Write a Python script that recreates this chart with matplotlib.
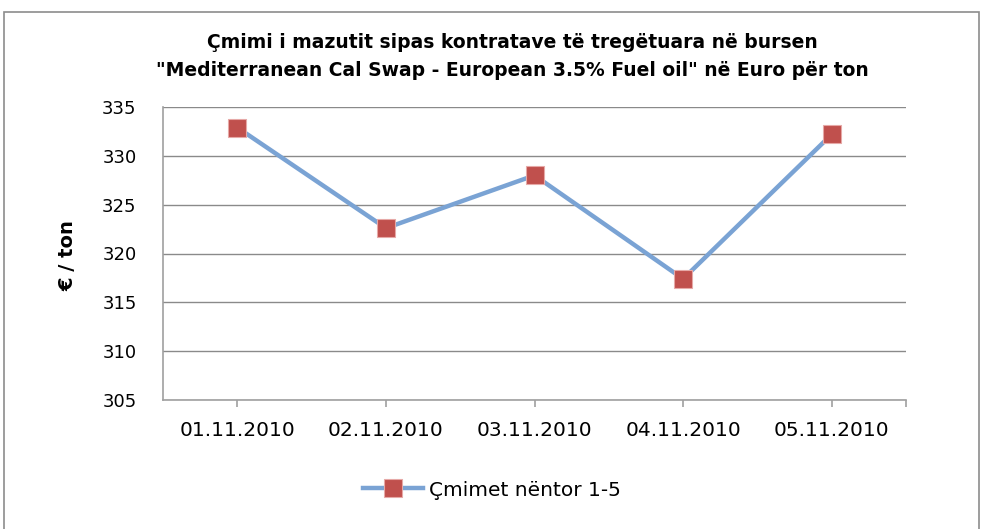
import matplotlib
matplotlib.use("Agg")
import matplotlib.pyplot as plt
from matplotlib.patches import Rectangle

dates = ["01.11.2010", "02.11.2010", "03.11.2010", "04.11.2010", "05.11.2010"]
prices = [332.9, 322.6, 328.0, 317.4, 332.2]
series_name = "Çmimet nëntor 1-5"
title = 'Çmimi i mazutit sipas kontratave të tregëtuara në bursen\n"Mediterranean Cal Swap - European 3.5% Fuel oil" në Euro për ton'
ylabel = "€ / ton"
yticks = [305, 310, 315, 320, 325, 330, 335]

plt.rcParams['font.family'] = ['DejaVu Sans']

fig = plt.figure(figsize=(9.84, 5.29), dpi=100)
W, H = 984, 529
ax = fig.add_axes([163 / W, 1 - 400 / H, (906 - 163) / W, (400 - 107) / H])

# outer frame
fig.patches.append(Rectangle((4 / W, -0.01), (979 - 4) / W, 1 - 12 / H + 0.01,
                             transform=fig.transFigure, fill=False,
                             edgecolor="#8c8c8c", linewidth=1.2))

x = list(range(len(dates)))
ax.plot(x, prices, color="#7aa3d4", linewidth=3.2, marker="s", markersize=12.5,
        markerfacecolor="#c0504d", markeredgecolor="#e6a9a7", markeredgewidth=0.8,
        label=series_name, zorder=3)

ax.set_xlim(-0.5, len(dates) - 0.5)
ax.set_ylim(305, 335)
ax.set_yticks(yticks)
ax.set_xticks(x + [len(dates) - 0.5])
ax.set_xticklabels(dates + [""])
ax.yaxis.grid(True, color="#8a8a8a", linewidth=1.0)
ax.set_axisbelow(True)
for s in ["top", "right"]:
    ax.spines[s].set_visible(False)
for s in ["left", "bottom"]:
    ax.spines[s].set_color("#a0a0a0")
    ax.spines[s].set_linewidth(1.2)
ax.tick_params(axis="y", length=0, labelsize=13, pad=19)
ax.tick_params(axis="x", length=5, color="#a0a0a0", width=1.2, labelsize=14.5, pad=10)

fig.text(512 / W, 1 - 56 / H, title, ha="center", va="center", fontsize=13.5,
         fontweight="bold", linespacing=1.6)
fig.text(68 / W, 1 - 256 / H, ylabel, ha="center", va="center", rotation=90,
         fontsize=14, fontweight="bold")

leg = fig.legend(loc="center", bbox_to_anchor=(492 / W, 1 - 490 / H), frameon=False,
                 fontsize=14.5, handlelength=3.0, handletextpad=0.3)

fig.savefig("out.png", dpi=100)
